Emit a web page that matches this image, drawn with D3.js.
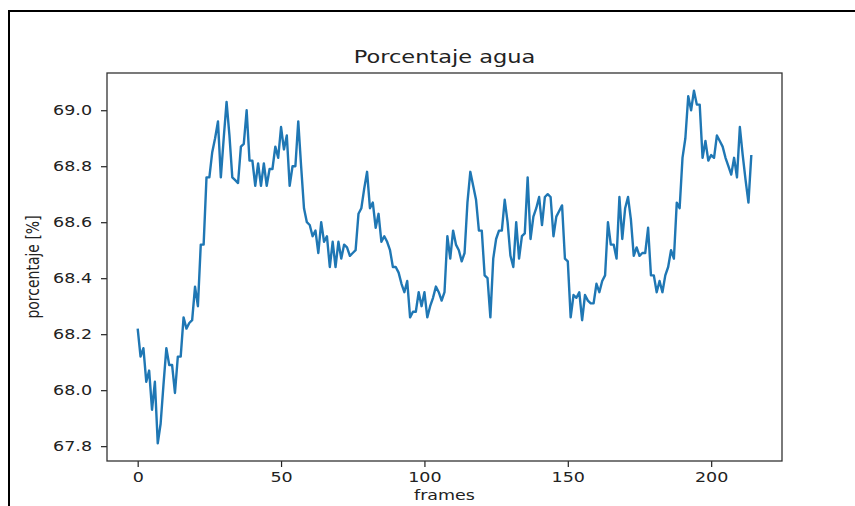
<!DOCTYPE html>
<html>
<head>
<meta charset="utf-8">
<script src="https://cdn.jsdelivr.net/npm/d3@7/dist/d3.min.js"></script>
<style>
body{margin:0;background:#fff;}
text{font-family:"DejaVu Sans",sans-serif;fill:#222;}
</style>
</head>
<body>
<div class="chart"></div>
<script>
// porcentaje de agua por frame
var agua = [
68.22,68.12,68.15,68.03,68.07,67.93,68.03,67.81,67.88,68.02,
68.15,68.09,68.09,67.99,68.12,68.12,68.26,68.22,68.24,68.25,
68.37,68.30,68.52,68.52,68.76,68.76,68.85,68.90,68.96,68.76,
68.90,69.03,68.91,68.76,68.75,68.74,68.87,68.88,69.00,68.82,
68.82,68.73,68.81,68.73,68.81,68.73,68.79,68.79,68.87,68.83,
68.94,68.86,68.91,68.73,68.80,68.80,68.96,68.80,68.65,68.60,
68.59,68.55,68.57,68.49,68.60,68.53,68.55,68.44,68.53,68.44,
68.53,68.47,68.52,68.51,68.48,68.49,68.50,68.63,68.65,68.72,
68.78,68.65,68.67,68.58,68.63,68.53,68.55,68.53,68.50,68.44,
68.44,68.42,68.38,68.35,68.39,68.26,68.28,68.28,68.35,68.30,
68.35,68.26,68.30,68.33,68.37,68.35,68.32,68.35,68.55,68.47,
68.57,68.52,68.50,68.46,68.49,68.67,68.78,68.73,68.68,68.57,
68.57,68.41,68.40,68.26,68.47,68.54,68.57,68.57,68.68,68.60,
68.48,68.44,68.60,68.47,68.55,68.56,68.76,68.54,68.62,68.65,
68.69,68.59,68.69,68.70,68.69,68.55,68.62,68.64,68.66,68.47,
68.46,68.26,68.34,68.33,68.35,68.25,68.34,68.32,68.31,68.31,
68.38,68.35,68.39,68.41,68.60,68.52,68.52,68.47,68.69,68.54,
68.65,68.69,68.61,68.48,68.51,68.48,68.49,68.49,68.58,68.41,
68.41,68.35,68.39,68.35,68.41,68.44,68.50,68.47,68.67,68.65,
68.83,68.90,69.05,69.00,69.07,69.02,69.02,68.83,68.89,68.82,
68.84,68.83,68.91,68.89,68.87,68.83,68.80,68.77,68.83,68.76,
68.94,68.84,68.75,68.67,68.84
];
var xTicks = [0,50,100,150,200];
var yTicks = [67.8,68.0,68.2,68.4,68.6,68.8,69.0];
var titulo = "Porcentaje agua";
var xLabel = "frames";
var yLabel = "porcentaje [%]";

var width=855, height=506;
var pLeft=107, pRight=782, pTop=73, pBottom=461;
var sx=1.25; // la captura esta estirada en horizontal

var svg=d3.select('div.chart')
		.append('svg')
		.attr('width',width)
		.attr('height',height);

// marco de la captura
svg.append('path')
	.attr('d','M9,506 V11 H855')
	.attr('fill','none')
	.attr('stroke','#000')
	.attr('stroke-width',2);

// margenes de 5% como matplotlib
var n=agua.length-1;
var xScale=d3.scaleLinear()
			.domain([-0.05*n,n*1.05])
			.range([pLeft,pRight]);
var ymin=d3.min(agua), ymax=d3.max(agua), span=ymax-ymin;
var yScale=d3.scaleLinear()
			.domain([ymin-0.05*span,ymax+0.05*span])
			.range([pBottom,pTop]);

var xAxis=svg.append('g')
	.attr('transform','translate(0,'+pBottom+')')
	.call(d3.axisBottom(xScale).tickValues(xTicks).tickSize(6).tickPadding(5).tickFormat(d3.format('d')));
xAxis.selectAll('text')
	.attr('font-size','14px')
	.attr('transform','scale('+sx+',1)')
	.attr('dy','0.71em');

var yAxis=svg.append('g')
	.attr('transform','translate('+pLeft+',0)')
	.call(d3.axisLeft(yScale).tickValues(yTicks).tickSize(6).tickFormat(d3.format('.1f')));
yAxis.selectAll('text')
	.attr('font-size','14px')
	.attr('x',-15/sx)
	.attr('transform','scale('+sx+',1)');

svg.selectAll('.domain').remove();
svg.selectAll('.tick line').attr('stroke','#222').attr('stroke-width',1.2);

// linea
var line=d3.line()
	.x(function(d,i){ return xScale(i); })
	.y(function(d){ return yScale(d); });
svg.append('path')
	.datum(agua)
	.attr('fill','none')
	.attr('stroke','#1f77b4')
	.attr('stroke-width',2.4)
	.attr('stroke-linejoin','round')
	.attr('d',line);

// caja de ejes
svg.append('rect')
	.attr('x',pLeft).attr('y',pTop)
	.attr('width',pRight-pLeft).attr('height',pBottom-pTop)
	.attr('fill','none')
	.attr('stroke','#333')
	.attr('stroke-width',1.3);

svg.append('text')
	.attr('transform','translate('+((pLeft+pRight)/2)+',63) scale('+sx+',1)')
	.attr('text-anchor','middle')
	.attr('font-size','18px')
	.text(titulo);

svg.append('text')
	.attr('transform','translate('+((pLeft+pRight)/2)+',500) scale('+sx+',1)')
	.attr('text-anchor','middle')
	.attr('font-size','14px')
	.text(xLabel);

svg.append('text')
	.attr('transform','translate(39,'+((pTop+pBottom)/2)+') scale('+sx+',1) rotate(-90)')
	.attr('text-anchor','middle')
	.attr('font-size','14px')
	.text(yLabel);
</script>
</body>
</html>
